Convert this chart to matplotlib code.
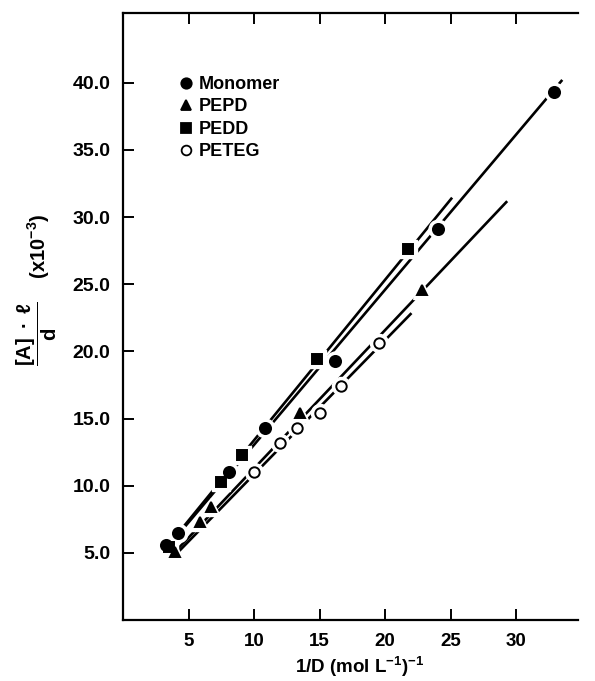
import numpy as np
import matplotlib
matplotlib.use("Agg")
import matplotlib.pyplot as plt
from matplotlib.lines import Line2D

plt.rcParams["font.family"] = ["Liberation Sans", "DejaVu Sans"]
plt.rcParams["font.weight"] = "bold"
plt.rcParams["mathtext.fontset"] = "custom"
plt.rcParams["mathtext.rm"] = "Liberation Sans:bold"
plt.rcParams["mathtext.it"] = "Liberation Sans:bold"
plt.rcParams["mathtext.bf"] = "Liberation Sans:bold"
plt.rcParams["mathtext.sf"] = "Liberation Sans:bold"

# Measured points: 1/D versus [A]*l/d (x10^-3)
series_names = ["Monomer", "PEPD", "PEDD", "PETEG"]

monomer_x = [3.3, 4.2, 8.1, 10.8, 16.2, 24.0, 32.9]
monomer_y = [5.6, 6.5, 11.0, 14.3, 19.3, 29.1, 39.3]

pepd_x = [4.0, 5.9, 6.7, 13.5, 22.8]
pepd_y = [5.1, 7.3, 8.4, 15.4, 24.6]

pedd_x = [3.5, 7.5, 9.1, 14.8, 21.7]
pedd_y = [5.4, 10.3, 12.3, 19.4, 27.6]

peteg_x = [10.0, 12.0, 13.3, 15.0, 16.6, 19.5]
peteg_y = [11.0, 13.2, 14.3, 15.4, 17.4, 20.6]

# Fitted straight lines: slope, intercept and x extent
fit_slope = [1.156, 1.031, 1.196, 1.000]
fit_intercept = [1.49, 0.98, 1.43, 0.85]
fit_x_start = [3.0, 3.9, 3.3, 4.2]
fit_x_end = [33.5, 29.3, 25.1, 22.0]

x_ticks = [5, 10, 15, 20, 25, 30]
y_ticks = [5.0, 10.0, 15.0, 20.0, 25.0, 30.0, 35.0, 40.0]

xs = [monomer_x, pepd_x, pedd_x, peteg_x]
ys = [monomer_y, pepd_y, pedd_y, peteg_y]
markers = ["o", "^", "s", "o"]
msizes = [8.0, 7.5, 7.0, 7.5]
faces = ["black", "black", "black", "white"]

fig = plt.figure(figsize=(5.95, 6.81), dpi=100)
ax = fig.add_axes([123 / 595, 61 / 681, 455 / 595, 607 / 681])

# fitted lines
for k in range(4):
    lx = np.array([fit_x_start[k], fit_x_end[k]])
    ax.plot(lx, fit_slope[k] * lx + fit_intercept[k], color="black",
            lw=1.9, solid_capstyle="butt", zorder=2)

# white halos break the lines around each symbol
for k in range(4):
    ax.plot(xs[k], ys[k], ls="none", marker=markers[k], ms=msizes[k] + 5.5,
            mfc="white", mec="white", zorder=3)

for k in range(4):
    ax.plot(xs[k], ys[k], ls="none", marker=markers[k], ms=msizes[k],
            mfc=faces[k], mec="black", mew=1.4, zorder=4)

ax.set_xlim(0, 34.7)
ax.set_ylim(0, 45.2)
ax.set_xticks(x_ticks)
ax.set_xticklabels([str(v) for v in x_ticks])
ax.set_yticks(y_ticks)
ax.set_yticklabels([f"{v:.1f}" for v in y_ticks])

ax.spines["right"].set_visible(False)
for s in ["left", "bottom", "top"]:
    ax.spines[s].set_linewidth(1.6)
ax.tick_params(axis="x", direction="in", length=8, width=1.4, top=True,
               labelsize=13.5, pad=9)
ax.tick_params(axis="y", direction="in", length=8, width=1.4,
               labelsize=14, pad=9)
for lab in ax.get_xticklabels() + ax.get_yticklabels():
    lab.set_fontweight("bold")

ax.set_xlabel(r"1/D (mol L$^{-1}$)$^{-1}$", fontsize=13.5, fontweight="bold")
ax.xaxis.set_label_coords(0.521, -0.058)

fig.text(37 / 595, 1 - 290 / 681,
         r"$\dfrac{\mathrm{[A]}\ \bullet\ \ell}{\mathrm{d}}$    (x10$^{-3}$)",
         rotation=90, ha="center", va="center", fontsize=14.5)

handles = [Line2D([], [], ls="none", marker=markers[k], ms=msizes[k] - 0.5,
                  mfc=faces[k], mec="black", mew=1.3) for k in range(4)]
leg = ax.legend(handles, series_names, loc="upper left",
                bbox_to_anchor=(0.11, 0.908), frameon=False,
                handlelength=0.6, handletextpad=0.45, labelspacing=0.3,
                borderaxespad=0, prop={"weight": "bold", "size": 13})

fig.savefig("out.png", dpi=100)
